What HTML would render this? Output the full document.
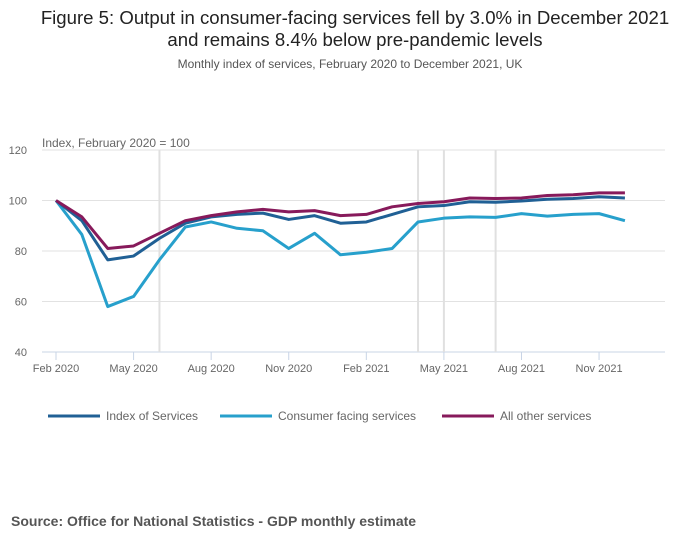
<!DOCTYPE html>
<html><head><meta charset="utf-8"><style>
body{margin:0;width:700px;height:549px;background:#fff;font-family:"Liberation Sans",sans-serif;overflow:hidden;position:relative}
.t{position:absolute;left:0;width:700px;text-align:center;color:#222}
</style></head><body>
<div class="t" style="top:7px;font-size:18.6px;line-height:22px;padding-left:10px;box-sizing:border-box">Figure 5: Output in consumer-facing services fell by 3.0% in December 2021<br>and remains 8.4% below pre-pandemic levels</div>
<div class="t" style="top:57px;font-size:12px;color:#555">Monthly index of services, February 2020 to December 2021, UK</div>
<svg id="c" width="700" height="549" style="position:absolute;left:0;top:0"></svg>
<div style="position:absolute;left:11px;top:513px;font-size:14px;font-weight:bold;color:#555">Source: Office for National Statistics - GDP monthly estimate</div>
<script>
const xLabels=["Feb 2020","May 2020","Aug 2020","Nov 2020","Feb 2021","May 2021","Aug 2021","Nov 2021"];
const yTicks=[40,60,80,100,120];
const indexServices=[100,92,76.5,78,85,91,93.5,94.5,95,92.5,94,91,91.5,94.5,97.5,98,99.5,99.3,99.8,100.5,100.8,101.5,101];
const consumerFacing=[100,86.5,58,62,76.5,89.5,91.5,89,88,81,87,78.5,79.5,81,91.5,93,93.5,93.3,94.8,93.8,94.5,94.8,92];
const allOther=[100,93.5,81,82,87,92,94,95.5,96.5,95.5,96,94,94.5,97.5,98.8,99.5,101,100.8,101,102,102.3,103,103];
const vLines=[4,14,15,17];
const svg=document.getElementById('c');const NS='http://www.w3.org/2000/svg';
const x=i=>56+i*25.86, y=v=>352-(v-40)*2.525;
function mk(t,a,p){const e=document.createElementNS(NS,t);for(const k in a)e.setAttribute(k,a[k]);(p||svg).appendChild(e);return e;}
yTicks.forEach(v=>{const l=mk('line',{x1:42,x2:665,y1:y(v),y2:y(v),stroke:v==40?'#c8d4e6':'#e2e2e2','stroke-width':1});

const t=mk('text',{x:27,y:y(v)+4,'font-size':11,fill:'#666','text-anchor':'end'});t.textContent=v;
});
vLines.forEach(i=>{const l=mk('line',{x1:x(i),x2:x(i),y1:150,y2:352,stroke:'#e0e0e0','stroke-width':2});
});
xLabels.forEach((s,k)=>{const xx=x(k*3);mk('line',{x1:xx,x2:xx,y1:352,y2:360,stroke:'#c8d4e6'});
const t=mk('text',{x:xx,y:372,'font-size':11,fill:'#666','text-anchor':'middle'});t.textContent=s;
});
const yt=mk('text',{x:42,y:147,'font-size':12,fill:'#666'});yt.textContent='Index, February 2020 = 100';

const series=[[consumerFacing,'#27a0cc','line-consumer-facing'],[indexServices,'#206095','line-index-of-services'],[allOther,'#871a5b','line-all-other-services']];
series.forEach(([d,c,n])=>{const p=mk('polyline',{points:d.map((v,i)=>x(i)+','+y(v)).join(' '),fill:'none',stroke:c,'stroke-width':3,'stroke-linejoin':'round'});
});
const leg=[['Index of Services','#206095',48],['Consumer facing services','#27a0cc',220],['All other services','#871a5b',442]];
leg.forEach(([s,c,lx])=>{const g=mk('g',{});
mk('line',{x1:lx,x2:lx+52,y1:416,y2:416,stroke:c,'stroke-width':3},g);
const t=mk('text',{x:lx+58,y:420,'font-size':12,fill:'#666'},g);t.textContent=s;});
</script>
</body></html>
